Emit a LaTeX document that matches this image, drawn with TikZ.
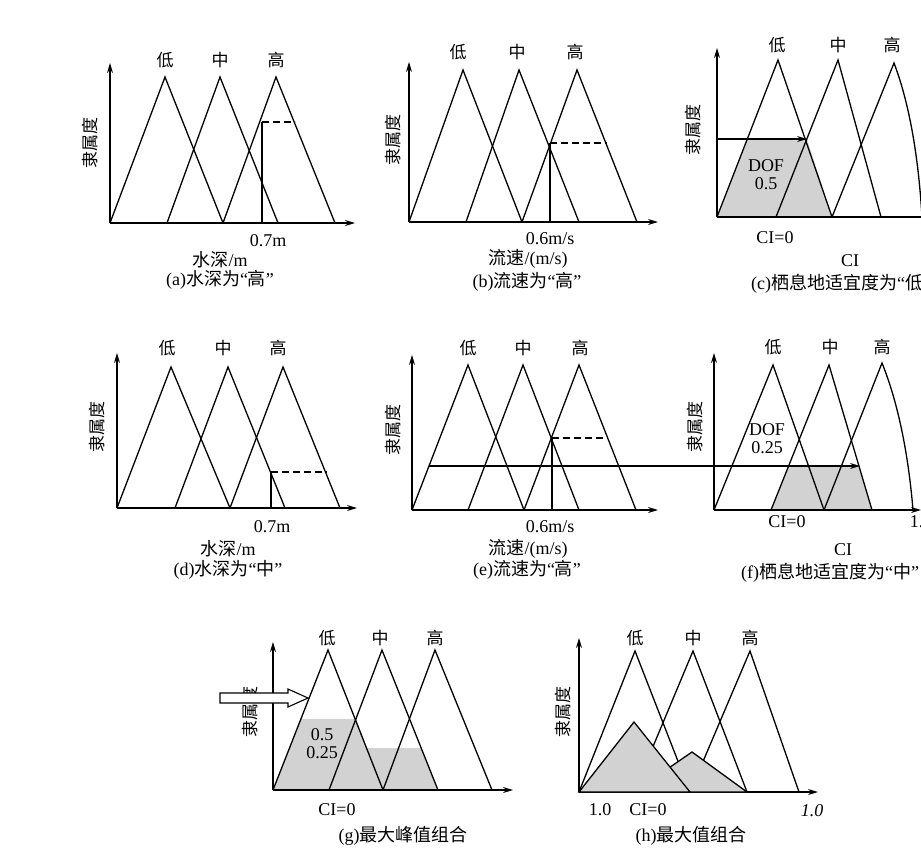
\documentclass[tikz,border=0pt]{standalone}
\usepackage{fontspec}
\setmainfont{Liberation Serif}
\newfontfamily\cjk{Noto Sans CJK SC}
\usetikzlibrary{arrows.meta}
\tikzset{
  ln/.style={line width=1.3pt, line join=miter},
  ax/.style={line width=1.2pt, -{Stealth[length=10pt,width=6pt]}},
  arw/.style={line width=1.1pt, -{Stealth[length=10pt,width=6pt]}},
  shd/.style={fill=gray!35, draw=none},
  lab/.style={font=\fontsize{18}{20}\selectfont, inner sep=0pt},
  cl/.style={font=\cjk\fontsize{17}{19}\selectfont, inner sep=0pt},
  yl/.style={font=\cjk\fontsize{17}{19}\selectfont, inner sep=0pt, rotate=90},
  vl/.style={line width=1.1pt},
  dsh/.style={line width=1.2pt, dash pattern=on 7pt off 4pt},
}
\newcommand\mytri[5]{\draw[ln] (#1,#4) -- (#3,#5) -- (#2,#4);}
\newcommand\zh[1]{{\cjk #1}}
\begin{document}
\begin{tikzpicture}[x=1pt,y=-1pt]
\useasboundingbox (0,0) rectangle (921,847);
\clip (0,0) rectangle (921,847);
\fill[white] (0,0) rectangle (921,847);

% ---------- (a)
\draw[ax] (110,223) -- (110,63);
\draw[ax] (110,223) -- (355,223);
\mytri{110}{223}{165}{223}{77}
\mytri{167}{278}{220}{223}{77}
\mytri{223}{335}{276}{223}{77}
\draw[vl] (262,223) -- (262,122);
\draw[dsh] (262,122) -- (295,122);
\node[cl] (a1) at (165,60) {低};
\node[cl] (a2) at (220,60) {中};
\node[cl] (a3) at (276,60) {高};
\node[yl] (ay) at (90,143) {隶属度};
\node[lab] (ax1) at (268,241) {0.7m};
\node[lab] (ax2) at (220,260) {\zh{水深}/m};
\node[lab] (acap) at (220,280) {(a)\zh{水深为}“\zh{高}”};

% ---------- (b)
\draw[ax] (409,222) -- (409,62);
\draw[ax] (409,222) -- (658,222);
\mytri{409}{522}{463}{222}{70}
\mytri{466}{579}{519}{222}{70}
\mytri{522}{637}{577}{222}{70}
\draw[vl] (550,222) -- (550,143);
\draw[dsh] (550,143) -- (607,143);
\node[cl] (b1) at (458,52) {低};
\node[cl] (b2) at (517,52) {中};
\node[cl] (b3) at (575,52) {高};
\node[yl] (by) at (393,140) {隶属度};
\node[lab] (bx1) at (550,239) {0.6m/s};
\node[lab] (bx2) at (528,259) {\zh{流速}/(m/s)};
\node[lab] (bcap) at (527,282) {(b)\zh{流速为}“\zh{高}”};

% ---------- (c)
\fill[shd] (717,217) -- (747,139) -- (807,139) -- (832,217) -- cycle;
\draw[ax] (717,217) -- (717,48);
\draw[ln] (717,217) -- (925,217);
\mytri{717}{832}{778}{217}{60}
\mytri{776}{881}{838}{217}{60}
\draw[ln] (832,217) -- (894,63) .. controls (908,100) and (918,150) .. (922,217);
\draw[arw] (717,139) -- (807,139);
\node[cl] (c1) at (777,45) {低};
\node[cl] (c2) at (838,45) {中};
\node[cl] (c3) at (892,45) {高};
\node[yl] (cy) at (693,130) {隶属度};
\node[lab] (cd1) at (766,166) {DOF};
\node[lab] (cd2) at (766,184) {0.5};
\node[lab] (cx1) at (775,238) {CI=0};
\node[lab] (cx2) at (850,261) {CI};
\node[lab, anchor=west] (ccap) at (751,284) {(c)\zh{栖息地适宜度为}“\zh{低}”};

% ---------- (d)
\draw[ax] (117,508) -- (117,353);
\draw[ax] (117,508) -- (357,508);
\mytri{117}{230}{171}{508}{367}
\mytri{175}{285}{228}{508}{367}
\mytri{230}{340}{283}{508}{367}
\draw[vl] (271,508) -- (271,472);
\draw[dsh] (271,472) -- (327,472);
\node[cl] (d1) at (167,348) {低};
\node[cl] (d2) at (223,348) {中};
\node[cl] (d3) at (278,348) {高};
\node[yl] (dy) at (97,427) {隶属度};
\node[lab] (dx1) at (272,527) {0.7m};
\node[lab] (dx2) at (228,549) {\zh{水深}/m};
\node[lab] (dcap) at (228,570) {(d)\zh{水深为}“\zh{中}”};

% ---------- (e)
\draw[ax] (412,510) -- (412,355);
\draw[ax] (412,510) -- (658,510);
\mytri{412}{524}{468}{510}{365}
\mytri{468}{579}{523}{510}{365}
\mytri{524}{636}{579}{510}{365}
\draw[vl] (552,510) -- (552,438);
\draw[dsh] (552,438) -- (607,438);
\node[cl] (e1) at (468,348) {低};
\node[cl] (e2) at (523,348) {中};
\node[cl] (e3) at (580,348) {高};
\node[yl] (ey) at (393,430) {隶属度};
\node[lab] (ex1) at (550,527) {0.6m/s};
\node[lab] (ex2) at (528,549) {\zh{流速}/(m/s)};
\node[lab] (ecap) at (527,570) {(e)\zh{流速为}“\zh{高}”};

% ---------- (f)
\fill[shd] (771,510) -- (788,467) -- (859,467) -- (872,510) -- cycle;
\draw[ax] (714,510) -- (714,353);
\draw[ax] (714,510) -- (921,510);
\mytri{714}{824}{773}{510}{365}
\mytri{771}{872}{829}{510}{365}
\draw[ln] (824,510) -- (882,363) .. controls (897,400) and (908,450) .. (913,510);
\coordinate (estart) at (429,466);
\coordinate (fend) at (860,466);
\draw[arw] (estart) -- (fend);
\node[cl] (f1) at (773,347) {低};
\node[cl] (f2) at (830,347) {中};
\node[cl] (f3) at (882,347) {高};
\node[yl] (fy) at (695,427) {隶属度};
\node[lab] (fd1) at (767,430) {DOF};
\node[lab] (fd2) at (767,448) {0.25};
\node[lab] (fx1) at (787,522) {CI=0};
\node[lab] (fx3) at (921,522) {1.0};
\node[lab] (fx2) at (843,550) {CI};
\node[lab] (fcap) at (830,573) {(f)\zh{栖息地适宜度为}“\zh{中}”};

% ---------- (g)
\fill[shd] (273,790) -- (301,719) -- (356,719) -- (383,790) -- cycle;
\fill[shd] (329,790) -- (345,748) -- (421,748) -- (438,790) -- cycle;
\draw[ax] (273,790) -- (273,642);
\draw[ax] (273,790) -- (513,790);
\mytri{273}{383}{328}{790}{650}
\mytri{329}{438}{382}{790}{650}
\mytri{383}{492}{435}{790}{650}
\node[cl] (g1) at (327,638) {低};
\node[cl] (g2) at (380,638) {中};
\node[cl] (g3) at (435,638) {高};
\node[yl] (gy) at (250,712) {隶属度};
\draw[line width=1.1pt, fill=white] (220,693) -- (288,693) -- (288,689) -- (308,698) -- (288,707) -- (288,703) -- (220,703) -- cycle;
\node[lab] (gd1) at (322,735) {0.5};
\node[lab] (gd2) at (322,753) {0.25};
\node[lab] (gx1) at (337,810) {CI=0};
\node[lab] (gcap) at (403,836) {(g)\zh{最大峰值组合}};

% ---------- (h)
\draw[ax] (579,792) -- (579,638);
\draw[ax] (579,792) -- (818,792);
\mytri{579}{690}{635}{792}{651}
\mytri{634}{747}{693}{792}{651}
\mytri{690}{799}{750}{792}{651}
\draw[ln, fill=gray!35] (634,792) -- (692,752) -- (747,792) -- cycle;
\draw[ln, fill=gray!35] (579,792) -- (634,722) -- (690,792) -- cycle;
\node[cl] (h1) at (635,638) {低};
\node[cl] (h2) at (693,638) {中};
\node[cl] (h3) at (750,638) {高};
\node[yl] (hy) at (563,712) {隶属度};
\node[lab] (hx1) at (600,810) {1.0};
\node[lab] (hx2) at (648,810) {CI=0};
\node[lab] (hx3) at (812,811) {\itshape 1.0};
\node[lab] (hcap) at (691,836) {(h)\zh{最大值组合}};
\end{tikzpicture}
\end{document}
